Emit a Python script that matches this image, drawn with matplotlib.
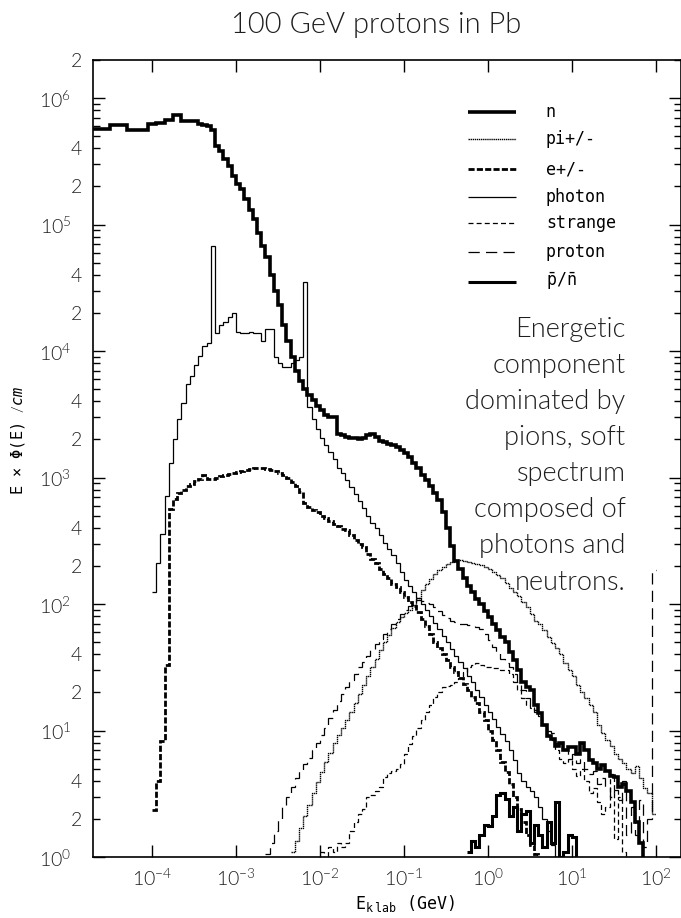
import numpy as np
import matplotlib
matplotlib.use("Agg")
import matplotlib.pyplot as plt
from matplotlib.ticker import FixedLocator, FixedFormatter, NullLocator

plt.rcParams['font.family'] = ['Lato', 'DejaVu Sans']
plt.rcParams['font.weight'] = 300
plt.rcParams['mathtext.fontset'] = 'custom'
plt.rcParams['mathtext.rm'] = 'Lato:weight=300'
plt.rcParams['mathtext.it'] = 'DejaVu Sans Mono:italic'
plt.rcParams['mathtext.tt'] = 'DejaVu Sans Mono'

BINS_PER_DECADE = 20

# E x Phi(E) per bin; *_lo is log10 of the first bin edge (GeV)
n_lo = -4.70
n_val = [5.7e5, 5.7e5, 5.7e5, 5.7e5, 6.1e5, 6.1e5, 6.1e5, 6.1e5, 5.6e5, 5.6e5,
         5.6e5, 5.6e5, 5.6e5, 6.2e5, 6.2e5, 6.4e5, 6.4e5, 6.7e5, 6.7e5, 7.3e5,
         7.3e5, 6.6e5, 6.6e5, 6.6e5, 6.6e5, 6.2e5, 6.1e5, 6.0e5, 5.6e5, 4.2e5,
         3.8e5, 3.3e5, 2.9e5, 2.4e5, 2.1e5, 1.9e5, 1.6e5, 1.3e5, 1.1e5, 8.5e4,
         6.8e4, 5.5e4, 4.0e4, 3.0e4, 2.3e4, 1.6e4, 1.2e4, 9.0e3, 7.0e3, 5.8e3,
         5.0e3, 4.5e3, 4.1e3, 3.7e3, 3.4e3, 3.1e3, 3.0e3, 3.0e3, 2.2e3, 2.15e3,
         2.1e3, 2.05e3, 2.05e3, 2.0e3, 2.05e3, 2.15e3, 2.2e3, 2.1e3, 1.95e3, 1.9e3,
         1.85e3, 1.8e3, 1.75e3, 1.65e3, 1.55e3, 1.45e3, 1.3e3, 1.2e3, 1.05e3, 950,
         850, 750, 660, 530, 400, 290, 220, 190, 160, 140,
         125, 110, 100, 88, 79, 70, 62, 55, 50, 42,
         36, 30, 24, 22, 21, 16, 13.7, 11, 9, 8.5,
         7.5, 7.9, 7, 7.4, 7.4, 6.5, 7.9, 7, 5.8, 5.5,
         5, 5.3, 4.8, 4.4, 4.3, 3.6, 3.8, 3.3, 2.7, 1.9,
         1.3, 0.8]

pi_lo = -2.35
pi_val = [1.1, 1.35, 1.7, 2.1, 2.6, 3.2, 3.9, 4.7, 5.6, 6.7,
          7.9, 9.2, 10.5, 12, 14, 16.5, 19.5, 23, 27, 32,
          37, 43, 50, 57, 65, 72, 79, 85, 90, 98,
          112, 128, 143, 157, 172, 186, 198, 208, 216, 222,
          222, 220, 216, 212, 207, 202, 196, 188, 180, 170,
          160, 146, 134, 125, 116, 104, 94, 84, 74, 70,
          62, 55, 49, 45, 40, 34, 30, 27, 23, 20,
          18, 16, 14, 11, 9.5, 8.4, 7.5, 6.5, 6.0, 5.5,
          5.0, 4.6, 5.2, 4.2, 3.5, 3.2, 2.2]

e_lo = -4.00
e_val = [2.35, 4.0, 8.2, 33, 560, 680, 750, 800, 850, 890,
         940, 980, 1050, 980, 980, 990, 1030, 1050, 1070, 1080,
         1100, 1120, 1140, 1160, 1180, 1185, 1180, 1170, 1150, 1120,
         1080, 1050, 1000, 930, 860, 775, 630, 590, 550, 535,
         500, 475, 450, 430, 415, 395, 385, 350, 320, 300,
         283, 250, 225, 210, 190, 174, 160, 145, 137, 124,
         114, 104, 96, 86, 76, 67, 58, 50, 45, 40,
         36, 32, 29, 26, 23.5, 21, 18.5, 16.5, 14, 12,
         10, 8.4, 7.0, 5.6, 4.7, 3.8, 3.0, 2.4, 1.9, 1.5,
         1.25, 1.05, 0.8]

g_lo = -4.00
g_val = [125, 210, 360, 710, 1300, 2000, 2900, 3900, 5500, 6300,
         7800, 9100, 1.1e4, 1.15e4, 6.8e4, 1.4e4, 1.6e4, 1.7e4, 1.85e4, 2.0e4,
         1.42e4, 1.38e4, 1.4e4, 1.42e4, 1.4e4, 1.38e4, 1.19e4, 1.5e4, 1.5e4, 9.0e3,
         8.0e3, 7.5e3, 7.5e3, 8.0e3, 8.5e3, 9.0e3, 3.5e4, 3.6e3, 2.9e3, 2.4e3,
         2.05e3, 1.8e3, 1.6e3, 1.4e3, 1.2e3, 1.08e3, 950, 840, 740, 650,
         570, 500, 440, 400, 350, 305, 270, 245, 210, 180,
         155, 140, 125, 112, 100, 90, 80, 71, 63, 56,
         50, 44, 39, 35, 31, 27, 24, 21, 18.5, 16,
         14, 12.3, 10.7, 9.4, 8.2, 7.0, 5.8, 4.6, 4.0, 3.6,
         3.3, 3.0, 2.5, 2.0, 1.6, 1.25, 1.0, 0.8]

s_lo = -2.00
s_val = [1.1, 0.5, 1.2, 1.1, 1.3, 1.2, 1.3, 1.6, 1.9, 2.2,
         2.4, 3.0, 3.1, 3.3, 3.6, 4.3, 4.6, 4.8, 5.0, 5.4,
         6.5, 7.8, 9, 10.5, 12, 14, 16, 18.5, 20, 22,
         22.5, 23, 24, 26, 29, 32, 33, 34, 33, 32,
         32, 31, 31, 30, 30, 28, 24, 21, 18, 16,
         15, 14.5, 13, 11, 9, 8.4, 7, 6, 5.5, 6,
         5, 4.4, 5, 4, 3.2, 3.5, 2.7, 2.2, 2.5, 4.5,
         1.4, 3.0, 1.1, 0.8]

p_lo = -2.65
p_val = [1.05, 1.3, 1.6, 2.0, 2.5, 3.0, 3.6, 4.2, 4.8, 5.4,
         6.1, 7.0, 8.0, 9.2, 10.5, 12.5, 14.5, 17, 19.5, 22,
         25, 28, 31.5, 35, 39, 43, 48, 53, 58, 64,
         70, 76, 83, 90, 97, 103, 107, 105, 102, 100,
         95, 88, 82, 78, 74, 72, 70, 69, 68, 67,
         66, 63, 58, 52, 46, 41, 37, 34, 32, 28,
         24, 21, 18, 16, 14, 13, 11, 10, 9.5, 8,
         7.5, 7, 6, 6.5, 5.5, 6, 5, 4.5, 4.8, 3.8,
         4.2, 3.6, 3.0, 3.4, 2.8, 4.0, 1.5, 2.5, 1.5, 2.8,
         1.2, 2.0, 185]

nb_lo = -0.25
nb_val = [1.1, 1.35, 1.2, 1.5, 1.8, 1.75, 2.1, 3.1, 3.2, 2.9,
          2.1, 2.5, 1.6, 2.2, 2.3, 1.3, 1.8, 1.5, 1.2, 1.9,
          1.3, 2.7, 1.0, 1.1, 1.5, 1.45, 0.5]

labels = ["n", "pi+/-", "e+/-", "photon", "strange", "proton",
          r"$\mathtt{\bar{p}/\bar{n}}$"]

x_ticks = [1e-4, 1e-3, 1e-2, 1e-1, 1e0, 1e1, 1e2]
x_ticklabels = [r"$10^{-4}$", r"$10^{-3}$", r"$10^{-2}$", r"$10^{-1}$",
                r"$10^{0}$", r"$10^{1}$", r"$10^{2}$"]
y_ticks = [1e0, 1e1, 1e2, 1e3, 1e4, 1e5, 1e6]
y_ticklabels = [r"$10^{%d}$" % d for d in range(7)]


def edges(lo, vals):
    k = np.arange(len(vals) + 1)
    return 10.0 ** (lo + k / BINS_PER_DECADE)


styles = [
    dict(lw=2.6, ls='-'),
    dict(lw=1.0, ls=(0, (1.0, 0.5))),
    dict(lw=2.0, ls=(0, (2.2, 0.8))),
    dict(lw=0.9, ls='-'),
    dict(lw=0.9, ls=(0, (4, 2.5))),
    dict(lw=0.9, ls=(0, (9, 5))),
    dict(lw=2.2, ls='-'),
]
series = [(n_lo, n_val), (pi_lo, pi_val), (e_lo, e_val), (g_lo, g_val),
          (s_lo, s_val), (p_lo, p_val), (nb_lo, nb_val)]

fig = plt.figure(figsize=(6.81, 9.18), dpi=100)
ax = fig.add_axes([93.4 / 681, 61 / 918, 1 - 93.4 / 681, 797 / 918])
ax.set_xscale('log')
ax.set_yscale('log')

for (lo, vals), st in zip(series, styles):
    ax.stairs(vals, edges(lo, vals), baseline=None, color='black',
              linewidth=st['lw'], linestyle=st['ls'])

ax.set_xlim(2e-5, 2e2)
ax.set_ylim(1, 2e6)

ax.xaxis.set_major_locator(FixedLocator(x_ticks))
ax.xaxis.set_major_formatter(FixedFormatter(x_ticklabels))
ax.xaxis.set_minor_locator(NullLocator())
ax.yaxis.set_major_locator(FixedLocator(y_ticks))
ax.yaxis.set_major_formatter(FixedFormatter(y_ticklabels))
minor_pos, minor_lab = [], []
for d in range(6):
    for k in range(2, 10):
        minor_pos.append(k * 10.0 ** d)
        minor_lab.append(str(k) if k in (2, 4) else "")
minor_pos.append(2e6)
minor_lab.append("2")
ax.yaxis.set_minor_locator(FixedLocator(minor_pos))
ax.yaxis.set_minor_formatter(FixedFormatter(minor_lab))

ax.tick_params(which='both', direction='in', top=True, right=True,
               labelsize=14, colors='black', labelcolor='#1e1e1e')
ax.tick_params(which='major', length=8.5, width=1.0)
ax.tick_params(which='minor', length=5, width=1.0)
ax.tick_params(axis='x', pad=7)
ax.tick_params(axis='y', which='major', pad=16)
ax.tick_params(axis='y', which='minor', pad=8)
for sp in ax.spines.values():
    sp.set_linewidth(1.2)

# legend drawn by hand, top right
row_y = [0.935, 0.901, 0.863, 0.828, 0.795, 0.759, 0.722]
for yy, st, lab in zip(row_y, styles, labels):
    ax.plot([0.6375, 0.719], [yy, yy], transform=ax.transAxes, color='black',
            linewidth=st['lw'], linestyle=st['ls'], solid_capstyle='butt')
    ax.text(0.770, yy, lab, transform=ax.transAxes, ha='left', va='center',
            fontsize=12, family='DejaVu Sans Mono', fontweight='normal',
            color='black')

fig.text(376 / 681, 1 - 33.3 / 918, "100 GeV protons in Pb", ha='center',
         va='baseline', fontsize=21, color='#1e1e1e')

fig.text(625.5 / 681, 1 - 456 / 918,
         "Energetic\ncomponent\ndominated by\npions, soft\nspectrum\n"
         "composed of\nphotons and\nneutrons.",
         ha='right', va='center', fontsize=19.5, linespacing=1.55,
         color='#1e1e1e')

fig.text(405 / 681, 1 - 903 / 918,
         r"$\mathtt{E}_{\mathtt{k\ lab}}$ (GeV)", ha='center', va='center',
         fontsize=12, family='DejaVu Sans Mono', fontweight='normal',
         color='black')
fig.text(18 / 681, 1 - 440 / 918, "E × Φ(E) " + r"$\mathit{/cm}$",
         rotation=90, ha='center', va='center', fontsize=11,
         family='DejaVu Sans Mono', fontweight='normal', color='black')

fig.savefig("out.png", dpi=100)
